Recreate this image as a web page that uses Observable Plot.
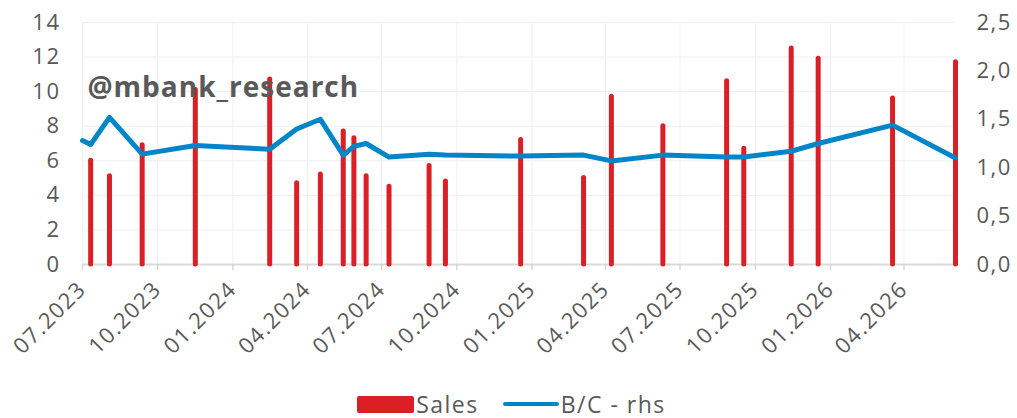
<!DOCTYPE html>
<html>
<head>
<meta charset="utf-8">
<script src="https://cdn.jsdelivr.net/npm/d3@7"></script>
<script src="https://cdn.jsdelivr.net/npm/@observablehq/plot@0.6"></script>
<style>
  html, body { margin: 0; padding: 0; background: #fff; }
  #chart { width: 1017px; }
  .legend { display: flex; justify-content: center; align-items: center; height: 26px; padding-top: 5px; font-family: "Open Sans", "Noto Sans", sans-serif; font-size: 23px; letter-spacing: 1.5px; color: #595959; padding-left: 6px; }
  .legend span { display: inline-block; height: 22px; line-height: 22px; }
  .sw-bar { width: 57px; height: 17px; background: #da1f26; border-radius: 2px; margin-right: 2px; }
  .sw-line { width: 56px; height: 4px; background: #0086c8; border-radius: 2px; margin: 0 2px 0 24px; }
  #chart svg g[aria-label="x-axis tick label"] text,
  #chart svg g[aria-label="y-axis tick label"] text { letter-spacing: 1.5px; }
  #chart svg g[aria-label="text"] text { letter-spacing: 1px; }
</style>
</head>
<body>
<div id="chart"></div>
<script>
// ---- data ----
const saleDates = ["2023-07-11","2023-08-03","2023-09-12","2023-11-16","2024-02-15","2024-03-19","2024-04-17","2024-05-15","2024-05-28","2024-06-12","2024-07-10","2024-08-28","2024-09-17","2024-12-18","2025-03-05","2025-04-08","2025-06-10","2025-08-27","2025-09-17","2025-11-14","2025-12-17","2026-03-18","2026-06-03"];
const sales = [6.0,5.1,6.9,10.1,10.7,4.7,5.2,7.7,7.3,5.1,4.5,5.7,4.8,7.2,5.0,9.7,8.0,10.6,6.7,12.5,11.9,9.6,11.7];
const bcDates = ["2023-07-01", ...saleDates];
const bcValues = [1.28,1.24,1.52,1.14,1.23,1.19,1.40,1.50,1.13,1.22,1.25,1.11,1.14,1.13,1.12,1.13,1.07,1.13,1.11,1.11,1.17,1.25,1.44,1.10];
const leftTicks = [0,2,4,6,8,10,12,14];
const rightTicks = [0,0.5,1,1.5,2,2.5];
const quarterTicks = ["2023-07-01","2023-10-01","2024-01-01","2024-04-01","2024-07-01","2024-10-01","2025-01-01","2025-04-01","2025-07-01","2025-10-01","2026-01-01","2026-04-01"];
const xDomain = ["2023-07-01","2026-06-03"];
const watermark = "@mbank_research";

const parse = d3.utcParse("%Y-%m-%d");
const salesData = saleDates.map((d,i) => ({date: parse(d), value: sales[i]}));
const bcData = bcDates.map((d,i) => ({date: parse(d), value: bcValues[i]}));
const qTicks = quarterTicks.map(parse);
const ratio = 14 / 2.5;

const RED = "#da1f26", BLUE = "#0086c8", TXT = "#595959";

const plot = Plot.plot({
  width: 1017,
  height: 386,
  marginTop: 22,
  marginBottom: 122,
  marginLeft: 82,
  marginRight: 62,
  style: {fontFamily: '"Open Sans", "Noto Sans", sans-serif', fontSize: "22px", color: TXT, background: "#fff"},
  x: {type: "utc", domain: xDomain.map(parse)},
  y: {domain: [0, 14]},
  marks: [
    Plot.gridY(leftTicks, {stroke: "#efefef", strokeOpacity: 1, strokeWidth: 1}),
    Plot.gridX(qTicks, {stroke: "#efefef", strokeOpacity: 1, strokeWidth: 1}),
    Plot.axisY(leftTicks, {anchor: "left", tickSize: 0, tickPadding: 22, fontSize: 22, fill: TXT, label: null}),
    Plot.axisY(rightTicks.map(v => v * ratio), {anchor: "right", tickSize: 0, tickPadding: 21, fontSize: 22, fill: TXT, label: null,
      tickFormat: d => (d / ratio).toFixed(1).replace(".", ",")}),
    Plot.axisX(qTicks, {anchor: "bottom", tickSize: 6, stroke: "#d9d9d9", strokeWidth: 1.5, tickPadding: 15, tickRotate: -45,
      fontSize: 22, fill: TXT, label: null, tickFormat: d3.utcFormat("%m.%Y")}),
    Plot.ruleY([0], {stroke: "#d9d9d9", strokeWidth: 2}),
    Plot.ruleX(salesData, {x: "date", y1: 0, y2: "value", stroke: RED, strokeWidth: 5, strokeLinecap: "round"}),
    Plot.line(bcData, {x: "date", y: d => d.value * ratio, stroke: BLUE, strokeWidth: 5, strokeLinejoin: "round", strokeLinecap: "round"}),
    Plot.text([watermark], {text: d => d, frameAnchor: "top-left", dx: 5, dy: 55, textAnchor: "start", lineAnchor: "top",
      fontSize: 28, fontWeight: "bold", fill: TXT})
  ]
});
document.getElementById("chart").appendChild(plot);

const legend = document.createElement("div");
legend.className = "legend";
legend.innerHTML = '<div class="sw-bar"></div><span>Sales</span><div class="sw-line"></div><span>B/C - rhs</span>';
document.getElementById("chart").appendChild(legend);
</script>
</body>
</html>
